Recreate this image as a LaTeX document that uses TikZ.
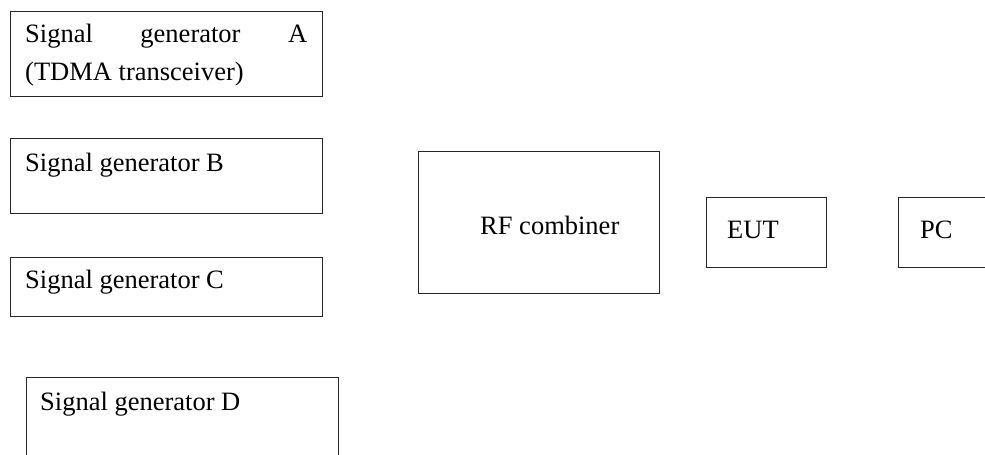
\documentclass[tikz,border=0pt]{standalone}
\usepackage{fontspec}
\setmainfont{Liberation Serif}
\begin{document}
\begin{tikzpicture}[x=1pt,y=-1pt,
  box/.style={draw=black!85,line width=1pt,inner sep=0pt,outer sep=0pt},
  lbl/.style={anchor=base west,inner sep=0pt,font=\fontsize{26.5}{32}\selectfont}]
\useasboundingbox (0,0) rectangle (985,455);
\clip (0,0) rectangle (985,455);
% boxes
\node[box,minimum width=312pt,minimum height=85pt,anchor=north west] (A) at (10,11) {};
\node[box,minimum width=312pt,minimum height=75pt,anchor=north west] (B) at (10,138) {};
\node[box,minimum width=312pt,minimum height=59pt,anchor=north west] (C) at (10,257) {};
\node[box,minimum width=312pt,minimum height=100pt,anchor=north west] (D) at (26,377) {};
\node[box,minimum width=241pt,minimum height=142pt,anchor=north west] (RF) at (418,151) {};
\node[box,minimum width=120pt,minimum height=70pt,anchor=north west] (EUT) at (706,197) {};
\node[box,minimum width=120pt,minimum height=70pt,anchor=north west] (PC) at (898,197) {};
% labels
\node[lbl] (tA1) at (25,42) {\hbox to 282pt{Signal\hfill generator\hfill A}};
\node[lbl] (tA2) at (25,80) {(TDMA transceiver)};
\node[lbl] (tB) at (25,171) {Signal generator B};
\node[lbl] (tC) at (25,288) {Signal generator C};
\node[lbl] (tD) at (40,410) {Signal generator D};
\node[lbl] (tRF) at (480,234) {RF combiner};
\node[lbl] (tEUT) at (727,238) {EUT};
\node[lbl] (tPC) at (920,238) {PC};
\end{tikzpicture}
\end{document}
